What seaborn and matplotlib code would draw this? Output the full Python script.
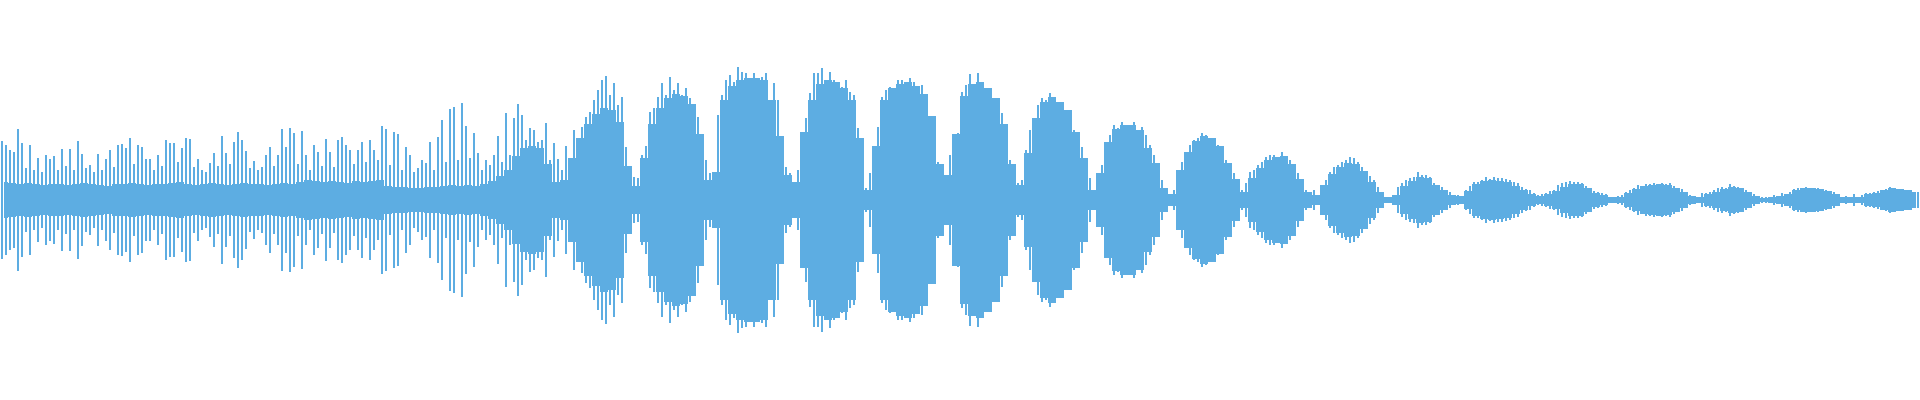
import numpy as np
import matplotlib.pyplot as plt
import seaborn as sns

# waveform, half-height in px from the centre line
# peak of every 4-px column group
peaks = [
    59, 55, 50, 48, 71, 57, 32, 55, 30, 42, 28, 45, 41, 44, 30, 51,
    34, 51, 30, 59, 46, 32, 35, 28, 46, 30, 41, 50, 33, 55, 56, 52,
    62, 36, 55, 53, 41, 41, 30, 45, 34, 60, 57, 57, 38, 52, 62, 61,
    33, 41, 30, 28, 37, 47, 34, 64, 47, 36, 58, 68, 60, 49, 32, 39,
    30, 33, 45, 53, 34, 45, 71, 53, 72, 67, 36, 69, 45, 30, 55, 48,
    34, 61, 48, 33, 60, 63, 55, 50, 36, 50, 58, 38, 60, 50, 40, 74,
    71, 35, 68, 66, 30, 53, 45, 28, 32, 40, 37, 58, 30, 63, 80, 38,
    91, 93, 40, 97, 74, 42, 67, 47, 30, 40, 35, 45, 64, 38, 87, 45,
    82, 96, 85, 60, 72, 70, 58, 60, 77, 40, 57, 41, 30, 54, 33, 70,
    60, 73, 83, 88, 100, 110, 120, 124, 105, 117, 95, 103, 53, 20, 23, 22,
    45, 54, 88, 92, 103, 117, 105, 123, 110, 117, 105, 112, 102, 90, 83, 62,
    40, 27, 28, 85, 105, 120, 125, 118, 133, 128, 127, 115, 127, 118, 123, 127,
    100, 117, 100, 60, 33, 27, 18, 30, 68, 82, 107, 127, 127, 132, 118, 128,
    120, 112, 113, 120, 108, 105, 72, 45, 12, 27, 47, 73, 103, 110, 113, 112,
    120, 120, 118, 122, 118, 110, 115, 98, 83, 65, 38, 18, 10, 45, 55, 67,
    108, 115, 126, 113, 127, 117, 110, 107, 102, 95, 87, 60, 40, 22, 17, 20,
    50, 70, 80, 95, 102, 100, 107, 103, 98, 92, 88, 85, 70, 62, 53, 40,
    22, 8, 15, 35, 53, 65, 75, 72, 78, 72, 75, 78, 70, 73, 65, 55,
    45, 35, 20, 8, 5, 10, 30, 38, 48, 55, 60, 62, 67, 65, 62, 58,
    55, 50, 40, 33, 27, 20, 10, 17, 28, 30, 35, 38, 43, 45, 45, 42,
    48, 43, 40, 33, 27, 18, 10, 6, 10, 5, 10, 20, 28, 33, 35, 38,
    40, 43, 42, 38, 33, 28, 24, 20, 13, 5, 3, 3, 4, 13, 17, 20,
    22, 23, 28, 25, 25, 23, 17, 15, 13, 10, 8, 5, 5, 4, 10, 14,
    18, 18, 20, 23, 21, 23, 22, 22, 21, 20, 18, 17, 13, 11, 10, 7,
    5, 6, 7, 9, 10, 15, 17, 18, 19, 18, 18, 17, 14, 10, 9, 8,
    7, 6, 3, 3, 4, 5, 8, 10, 12, 15, 14, 16, 16, 17, 16, 17,
    16, 17, 14, 12, 11, 8, 5, 3, 3, 7, 7, 8, 10, 12, 13, 12,
    16, 14, 13, 11, 10, 8, 6, 4, 3, 3, 2, 5, 3, 7, 6, 8,
    11, 12, 11, 13, 12, 12, 12, 11, 10, 9, 8, 5, 3, 4, 3, 6,
    3, 5, 7, 7, 8, 9, 10, 11, 13, 12, 11, 10, 10, 9, 8, 8,
]

# dense body of the wave, every 8 px
body = [
    18, 17, 16, 17, 16, 15, 16, 16, 15, 16, 17, 16, 15, 14, 16, 16,
    17, 16, 15, 16, 16, 17, 18, 16, 15, 16, 17, 16, 15, 16, 17, 16,
    16, 15, 16, 17, 16, 18, 20, 19, 18, 19, 18, 17, 19, 18, 19, 20,
    14, 13, 13, 12, 12, 13, 13, 14, 15, 14, 15, 14, 16, 19, 24, 30,
    44, 52, 54, 52, 36, 18, 20, 42, 62, 76, 86, 92, 90, 78, 34, 14,
    42, 76, 92, 102, 106, 104, 96, 66, 20, 28, 100, 114, 120, 122, 122, 120,
    100, 64, 25, 18, 68, 100, 116, 120, 118, 112, 100, 62, 10, 54, 100, 112,
    116, 118, 114, 106, 84, 36, 25, 66, 104, 116, 118, 112, 102, 76, 36, 15,
    47, 82, 98, 103, 98, 90, 68, 42, 10, 27, 58, 71, 75, 75, 70, 52,
    37, 12, 6, 30, 48, 59, 64, 62, 54, 37, 21, 8, 22, 32, 40, 43,
    44, 36, 21, 8, 5, 15, 26, 33, 37, 36, 29, 18, 8, 3, 5, 14,
    19, 23, 22, 15, 10, 5, 4, 9, 16, 19, 20, 19, 18, 14, 10, 6,
    4, 6, 9, 13, 16, 16, 12, 7, 5, 3, 3, 7, 11, 14, 15, 16,
    15, 12, 8, 4, 3, 6, 8, 11, 13, 12, 8, 4, 2, 3, 4, 6,
    10, 12, 12, 11, 9, 6, 3, 3, 3, 6, 7, 10, 12, 11, 10, 8,
]

wave_color = "#5dade2"

sns.set_theme(style="white")

peaks = np.array(peaks)
body = np.array(body)
px = np.arange(len(peaks)) * 4 + 2
bx = np.arange(len(body)) * 8 + 4

fig = plt.figure(figsize=(19.2, 4), dpi=100)
ax = fig.add_axes([0, 0, 1, 1])

# body as 8-px steps, then the 4-px peaks as thin columns on top
ax.fill_between(bx, -body, body, color=wave_color, linewidth=0, step="mid")
ax.vlines(px, -peaks, peaks, color=wave_color, linewidth=1.44, antialiased=False)

ax.set_xlim(0, 1920)
ax.set_ylim(-200, 200)
ax.axis("off")

fig.savefig("out.png", dpi=100, facecolor="white")
